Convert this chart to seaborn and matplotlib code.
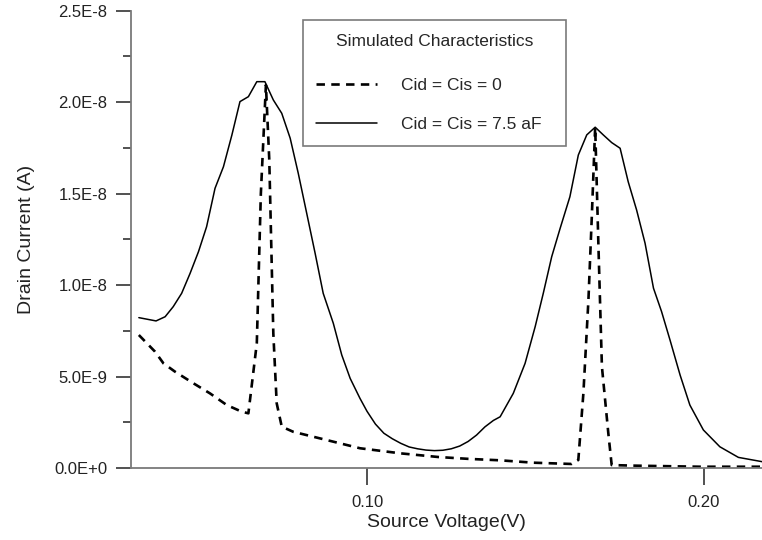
import numpy as np
import pandas as pd
import matplotlib
matplotlib.use("Agg")
import matplotlib.pyplot as plt
import seaborn as sns

# Source voltage (V) and drain current (nA) for the two simulated cases
voltage_cap = [0.0323, 0.0374, 0.0401, 0.0425, 0.0450, 0.0475, 0.0500, 0.0524,
               0.0549, 0.0574, 0.0599, 0.0623, 0.0648, 0.0673, 0.0697, 0.0722,
               0.0747, 0.0772, 0.0796, 0.0821, 0.0846, 0.0870, 0.0900, 0.0925,
               0.0950, 0.0979, 0.1000, 0.1025, 0.1050, 0.1075, 0.1100, 0.1125,
               0.1150, 0.1175, 0.1200, 0.1225, 0.1250, 0.1275, 0.1300, 0.1325,
               0.1350, 0.1375, 0.1395, 0.1434, 0.1469, 0.1499, 0.1523, 0.1548,
               0.1573, 0.1602, 0.1627, 0.1652, 0.1677, 0.1701, 0.1726, 0.1751,
               0.1775, 0.1800, 0.1825, 0.1850, 0.1874, 0.1899, 0.1929, 0.1958,
               0.1998, 0.2047, 0.2102, 0.2180]
current_cap = [8.22, 8.04, 8.27, 8.82, 9.55, 10.64, 11.83, 13.19,
               15.29, 16.47, 18.20, 20.03, 20.30, 21.12, 21.12, 20.12,
               19.39, 18.03, 16.11, 13.93, 11.74, 9.55, 7.91, 6.18,
               4.90, 3.81, 3.10, 2.40, 1.90, 1.60, 1.35, 1.15,
               1.05, 0.98, 0.95, 0.97, 1.05, 1.20, 1.45, 1.80,
               2.25, 2.60, 2.80, 4.08, 5.72, 7.73, 9.55, 11.55,
               13.10, 14.83, 17.11, 18.21, 18.63, 18.21, 17.79, 17.48,
               15.65, 14.10, 12.29, 9.83, 8.55, 7.00, 5.08, 3.44,
               2.08, 1.16, 0.58, 0.32]

voltage_nocap = [0.0323, 0.0371, 0.0396, 0.0430, 0.0485, 0.0534, 0.0584, 0.0628,
                 0.0648, 0.0673, 0.0685, 0.0700, 0.0710, 0.0722, 0.0732, 0.0747,
                 0.0781, 0.0880, 0.0979, 0.1100, 0.1212, 0.1300, 0.1395, 0.1494,
                 0.1607, 0.1627, 0.1642, 0.1657, 0.1667, 0.1677, 0.1687, 0.1697,
                 0.1716, 0.1726, 0.1790, 0.1988, 0.2180]
current_nocap = [7.27, 6.36, 5.72, 5.27, 4.63, 4.08, 3.44, 3.08,
                 2.99, 6.82, 15.00, 20.94, 16.84, 7.36, 3.54, 2.26,
                 1.98, 1.53, 1.08, 0.80, 0.60, 0.50, 0.42, 0.29,
                 0.22, 0.44, 4.08, 9.19, 13.74, 18.63, 11.92, 5.54,
                 1.90, 0.16, 0.13, 0.07, 0.07]

y_ticks = [0.0, 5.0e-9, 1.0e-8, 1.5e-8, 2.0e-8, 2.5e-8]
y_tick_labels = ["0.0E+0", "5.0E-9", "1.0E-8", "1.5E-8", "2.0E-8", "2.5E-8"]
x_ticks = [0.10, 0.20]
x_tick_labels = ["0.10", "0.20"]

label_nocap = "Cid = Cis = 0"
label_cap = "Cid = Cis = 7.5 aF"
legend_title = "Simulated Characteristics"

df_nocap = pd.DataFrame({"V": voltage_nocap,
                         "I": np.array(current_nocap) * 1e-9})
df_cap = pd.DataFrame({"V": voltage_cap,
                       "I": np.array(current_cap) * 1e-9})

sns.set_style("ticks")
plt.rcParams["font.family"] = ["Liberation Sans", "DejaVu Sans"]

W, H = 762, 540
fig = plt.figure(figsize=(W / 100, H / 100), dpi=100)
ax = fig.add_axes([131 / W, 1 - 468 / H, 1 - 131 / W, (468 - 10.7) / H])

sns.lineplot(data=df_nocap, x="V", y="I", ax=ax, color="black",
             linewidth=1.9, estimator=None, sort=False, label=label_nocap)
ax.lines[-1].set_linestyle((0, (3.2, 2.4)))
sns.lineplot(data=df_cap, x="V", y="I", ax=ax, color="black",
             linewidth=1.1, estimator=None, sort=False, label=label_cap)

ax.set_xlim(0.02997, 0.2172)
ax.set_ylim(0, 2.5e-8)

ax.set_xticks(x_ticks)
ax.set_xticklabels(x_tick_labels)
ax.set_yticks(y_ticks)
ax.set_yticklabels(y_tick_labels)
ax.set_yticks(np.arange(2.5e-9, 2.5e-8, 5e-9), minor=True)

spine_color = "#7a7a7a"
for side in ("top", "right"):
    ax.spines[side].set_visible(False)
for side in ("left", "bottom"):
    ax.spines[side].set_color(spine_color)
    ax.spines[side].set_linewidth(1.3)

ax.tick_params(axis="both", which="major", direction="out", width=1.2,
               color="#333333", labelsize=12, labelcolor="#222222")
ax.tick_params(axis="y", which="major", length=11, pad=6)
ax.tick_params(axis="y", which="minor", direction="out", length=5.5,
               width=1.2, color="#333333")
ax.tick_params(axis="x", which="major", length=12, pad=7.5)

ax.set_xlabel("Source Voltage(V)", fontsize=14, color="#222222", labelpad=3)
ax.set_ylabel("Drain Current (A)", fontsize=14, color="#222222", labelpad=14)

handles, labels = ax.get_legend_handles_labels()
x0, x1 = 302.5 / W, 566 / W
leg = ax.legend(handles, labels, title=legend_title,
                loc="lower left", mode="expand",
                bbox_to_anchor=(x0, 1 - 145.5 / H, x1 - x0, 0.0),
                bbox_transform=fig.transFigure,
                frameon=True, fancybox=False, shadow=False,
                edgecolor="#7a7a7a", framealpha=1, borderaxespad=0,
                fontsize=12.5, title_fontsize=12.5, handlelength=3.5,
                handletextpad=1.4, labelspacing=1.33, borderpad=0.8)
leg.get_frame().set_linewidth(1.2)
leg._legend_box.sep = 21

fig.savefig("out.png", dpi=100)
